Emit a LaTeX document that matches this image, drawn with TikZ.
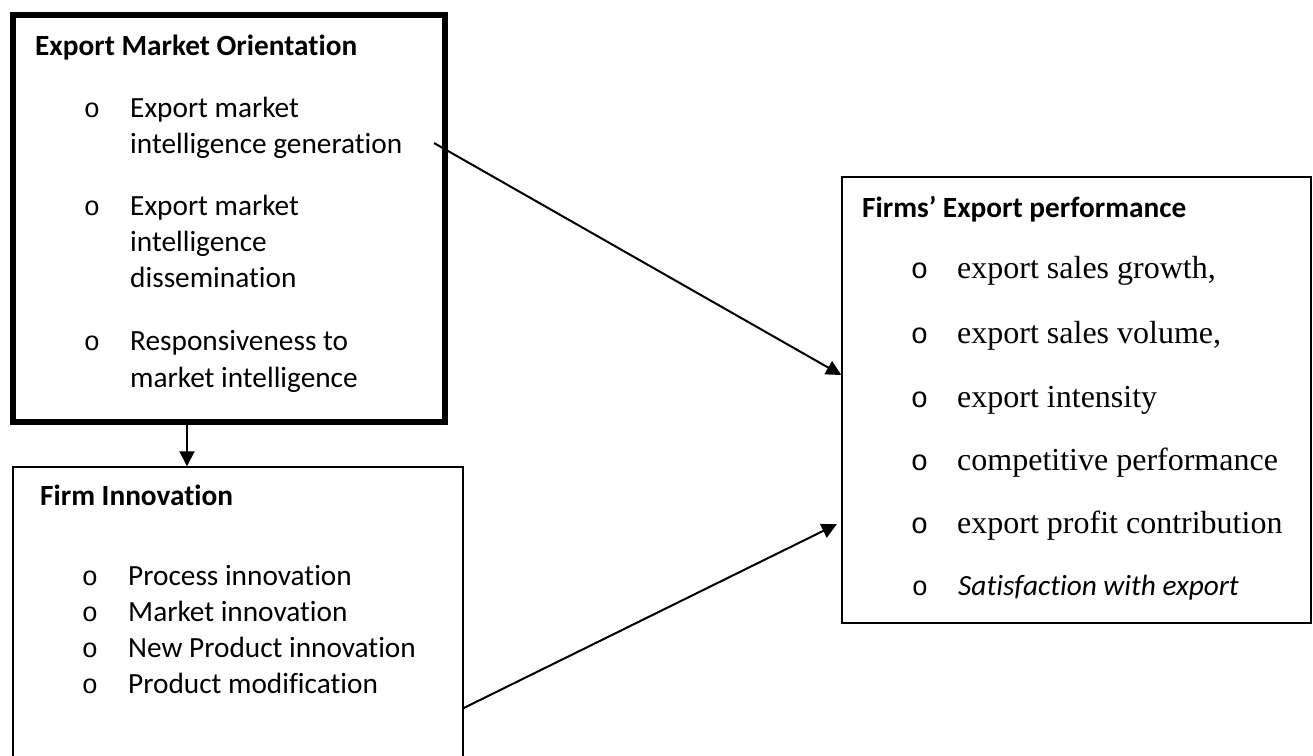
\documentclass[tikz,border=0pt]{standalone}
\usepackage{fontspec}
\setmainfont{Carlito}[Ligatures=NoCommon]
\newfontfamily\serifrm{Liberation Serif}
\newfontfamily\monorm{Liberation Mono}
\usetikzlibrary{arrows.meta}
\tikzset{
  box/.style={draw, rectangle, inner sep=0pt, line width=1.5pt},
  thickbox/.style={draw, rectangle, inner sep=0pt, line width=6pt},
  txt/.style={anchor=base west, inner sep=0pt, font=\fontsize{29.3}{35}\selectfont},
  ttl/.style={anchor=base west, inner sep=0pt, font=\fontsize{29.3}{35}\selectfont\bfseries},
  itxt/.style={anchor=base west, inner sep=0pt, font=\fontsize{29.3}{35}\selectfont\itshape},
  bul/.style={anchor=base, inner sep=0pt, font=\monorm\fontsize{27}{32}\selectfont},
  pbul/.style={anchor=base, inner sep=0pt, font=\monorm\fontsize{29}{32}\selectfont},
  stxt/.style={anchor=base west, inner sep=0pt, font=\serifrm\fontsize{32}{38}\selectfont},
  arr/.style={line width=2pt, -{Triangle[length=15pt,width=15pt]}}
}
\begin{document}
\begin{tikzpicture}[x=1pt,y=-1pt]
\useasboundingbox (0,0) rectangle (1313,755);
\clip (0,0) rectangle (1313,755);
\fill[white] (0,0) rectangle (1313,755);

% boxes
\node[thickbox, minimum width=432pt, minimum height=407pt] (emo) at (229,218.5) {};
\node[box, minimum width=450pt, minimum height=333pt] (inno) at (238,633.5) {};
\node[box, minimum width=469pt, minimum height=446pt] (perf) at (1076.5,400) {};

% Export Market Orientation
\node[ttl] (emot) at (35,55) {Export Market Orientation};
\node[bul] (eb1) at (92,117) {o};
\node[txt] (e1a) at (130,117) {Export market};
\node[txt] (e1b) at (130,153) {intelligence generation};
\node[bul] (eb2) at (92,215) {o};
\node[txt] (e2a) at (130,215) {Export market};
\node[txt] (e2b) at (130,251) {intelligence};
\node[txt] (e2c) at (130,287) {dissemination};
\node[bul] (eb3) at (92,350) {o};
\node[txt] (e3a) at (130,350) {Responsiveness to};
\node[txt] (e3b) at (130,387) {market intelligence};

% Firm Innovation
\node[ttl] (inot) at (40,505) {Firm Innovation};
\node[bul] (ib1) at (90,585) {o};
\node[txt] (i1) at (128,585) {Process innovation};
\node[bul] (ib2) at (90,621) {o};
\node[txt] (i2) at (128,621) {Market innovation};
\node[bul] (ib3) at (90,657) {o};
\node[txt] (i3) at (128,657) {New Product innovation};
\node[bul] (ib4) at (90,693) {o};
\node[txt] (i4) at (128,693) {Product modification};

% Firms' Export performance
\node[ttl] (pert) at (862,217) {Firms’ Export performance};
\node[pbul] (pb1) at (919.5,278) {o};
\node[stxt] (p1) at (957,278) {export sales growth,};
\node[pbul] (pb2) at (919.5,343) {o};
\node[stxt] (p2) at (957,343) {export sales volume,};
\node[pbul] (pb3) at (919.5,407) {o};
\node[stxt] (p3) at (957,407) {export intensity};
\node[pbul] (pb4) at (919.5,470) {o};
\node[stxt] (p4) at (957,470) {competitive performance};
\node[pbul] (pb5) at (919.5,533) {o};
\node[stxt] (p5) at (957,533) {export profit contribution};
\node[bul] (pb6) at (920,595) {o};
\node[itxt] (p6) at (958,595) {Satisfaction with export};

% connectors
\coordinate (a1) at (434,143);
\coordinate (t1) at (0,375);
\coordinate (s2) at (0,708);
\coordinate (t2) at (0,522);
\coordinate (vx) at (187,0);
\draw[arr] (a1) -- (perf.west |- t1);
\draw[arr, shorten >=5pt] (inno.east |- s2) -- (perf.west |- t2);
\draw[arr] (vx |- emo.south) -- (vx |- inno.north);
\end{tikzpicture}
\end{document}
